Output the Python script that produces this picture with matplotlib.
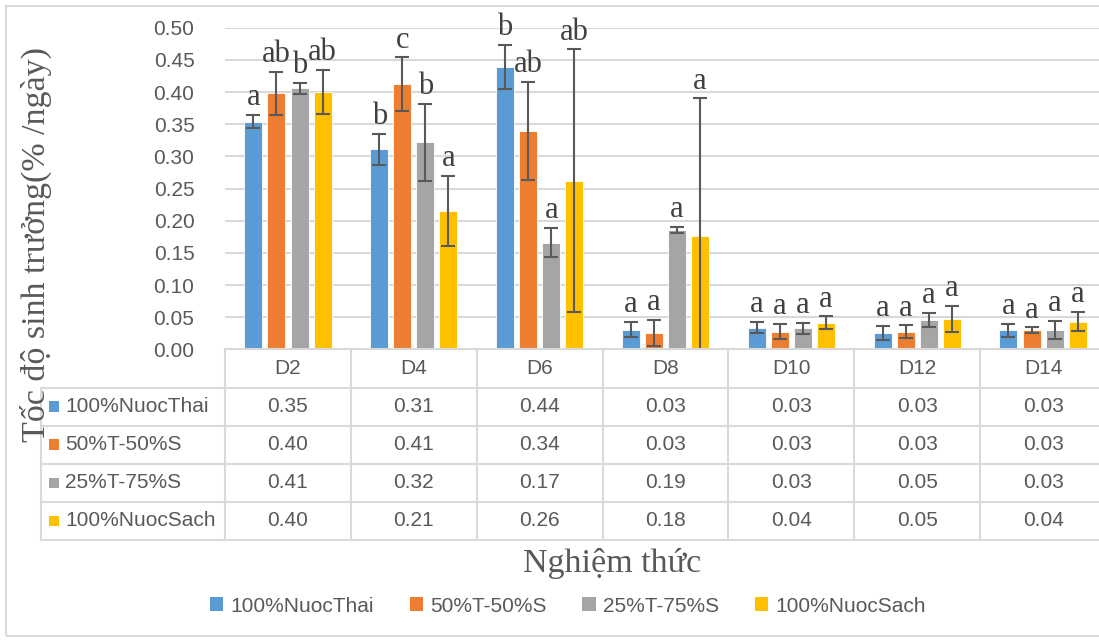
import matplotlib
matplotlib.use("Agg")
import matplotlib.pyplot as plt
from matplotlib.patches import Patch, Rectangle
import numpy as np

# ---------------- data ----------------
categories = ["D2", "D4", "D6", "D8", "D10", "D12", "D14"]
series_names = ["100%NuocThai", "50%T-50%S", "25%T-75%S", "100%NuocSach"]

nuoc_thai = [0.354, 0.311, 0.4395, 0.031, 0.034, 0.0257, 0.0298]
t50_s50 = [0.398, 0.412, 0.340, 0.026, 0.0277, 0.0277, 0.0298]
t25_s75 = [0.406, 0.322, 0.166, 0.186, 0.033, 0.0459, 0.031]
nuoc_sach = [0.4005, 0.215, 0.262, 0.176, 0.0417, 0.0474, 0.043]

err_nuoc_thai = [0.0104, 0.0244, 0.034, 0.012, 0.0085, 0.0105, 0.0105]
err_t50_s50 = [0.0335, 0.042, 0.076, 0.020, 0.012, 0.010, 0.0045]
err_t25_s75 = [0.0083, 0.060, 0.023, 0.0045, 0.0085, 0.0105, 0.014]
err_nuoc_sach = [0.0345, 0.0545, 0.2045, 0.214, 0.010, 0.020, 0.015]

letters_nuoc_thai = ["a", "b", "b", "a", "a", "a", "a"]
letters_t50_s50 = ["ab", "c", "ab", "a", "a", "a", "a"]
letters_t25_s75 = ["b", "b", "a", "a", "a", "a", "a"]
letters_nuoc_sach = ["ab", "a", "ab", "a", "a", "a", "a"]

y_ticks = [0.00, 0.05, 0.10, 0.15, 0.20, 0.25, 0.30, 0.35, 0.40, 0.45, 0.50]
y_label = "Tốc độ sinh trưởng(% /ngày)"
x_label = "Nghiệm thức"

values = [nuoc_thai, t50_s50, t25_s75, nuoc_sach]
errors = [err_nuoc_thai, err_t50_s50, err_t25_s75, err_nuoc_sach]
letters = [letters_nuoc_thai, letters_t50_s50, letters_t25_s75, letters_nuoc_sach]

# ---------------- style ----------------
colors = ["#5B9BD5", "#ED7D31", "#A5A5A5", "#FFC000"]
text_gray = "#595959"
grid_gray = "#D9D9D9"
err_gray = "#595959"

plt.rcParams['font.family'] = ['Liberation Sans', 'DejaVu Sans']
serif = ['Liberation Serif', 'DejaVu Serif']

W, H = 1099, 641
fig = plt.figure(figsize=(W / 100, H / 100), dpi=100)

col_w = 125.86  # px per category
ax_left, ax_right = 225, 225 + 7 * col_w
y0_px, y50_px = 349.5, 27.7

ax = fig.add_axes([ax_left / W, 1 - y0_px / H, (ax_right - ax_left) / W, (y0_px - y50_px) / H])
ax.set_xlim(-0.5, 6.5)
ax.set_ylim(0, 0.5)

x = np.arange(len(categories))
offsets = [-0.275, -0.092, 0.092, 0.275]
bar_w = 0.143

for i in range(4):
    ax.bar(x + offsets[i], values[i], width=bar_w, color=colors[i],
           edgecolor="white", linewidth=0.6, zorder=2)
    ax.errorbar(x + offsets[i], values[i], yerr=errors[i], fmt='none',
                ecolor=err_gray, elinewidth=1.5, capsize=4.7, capthick=1.5, zorder=3)
    for j in range(len(categories)):
        top = values[i][j] + errors[i][j]
        ax.annotate(letters[i][j], xy=(x[j] + offsets[i], top), xytext=(0, 7),
                    textcoords="offset points", ha="center", va="baseline",
                    fontsize=22, family=serif, color="#404040", zorder=4)

ax.set_yticks(y_ticks)
ax.set_yticklabels([f"{v:.2f}" for v in y_ticks], fontsize=15, color=text_gray)
ax.tick_params(axis='y', length=0, pad=22)
ax.set_xticks([])
for s in ax.spines.values():
    s.set_visible(False)
ax.yaxis.grid(True, color=grid_gray, linewidth=1.5, zorder=0)
ax.set_axisbelow(True)

# ---------------- data table ----------------
tab_left = 41
tab = fig.add_axes([tab_left / W, 1 - 540 / H, (ax_right - tab_left) / W, 190.5 / H])
xl = -0.5 - (ax_left - tab_left) / col_w
tab.set_xlim(xl, 6.5)
tab.set_ylim(0, 5)
tab.axis('off')

lw = 1.5
tab.plot([-0.5, 6.5], [5, 5], color=grid_gray, lw=lw, clip_on=False)
for r in range(5):
    tab.plot([xl, 6.5], [r, r], color=grid_gray, lw=lw, clip_on=False)
for k in range(8):
    tab.plot([-0.5 + k, -0.5 + k], [0, 5], color=grid_gray, lw=lw, clip_on=False)
tab.plot([xl, xl], [0, 4], color=grid_gray, lw=lw, clip_on=False)

for j, c in enumerate(categories):
    tab.text(j, 4.5, c, ha="center", va="center", fontsize=15, color=text_gray)
mk_w = 10 / col_w
for i, name in enumerate(series_names):
    yc = 3.5 - i
    tab.add_patch(Rectangle((xl + 8 / col_w, yc - 0.13), mk_w, 0.27,
                            facecolor=colors[i], edgecolor="none", clip_on=False))
    tab.text(xl + 24 / col_w, yc, name, ha="left", va="center", fontsize=15, color=text_gray)
    for j in range(len(categories)):
        tab.text(j, yc, f"{values[i][j]:.2f}", ha="center", va="center",
                 fontsize=15, color=text_gray)

# ---------------- titles ----------------
fig.text(36 / W, 1 - 245 / H, y_label, rotation=90, ha="center", va="center",
         fontsize=24.5, family=serif, color=text_gray)
fig.text(612 / W, 1 - 572 / H, x_label, ha="center", va="baseline",
         fontsize=24.5, family=serif, color=text_gray)

handles = [Patch(facecolor=colors[i], edgecolor="none", label=series_names[i]) for i in range(4)]
fig.legend(handles=handles, loc="center", bbox_to_anchor=(568 / W, 1 - 606 / H), ncol=4,
           frameon=False, fontsize=15, handlelength=0.65, handleheight=0.65,
           handletextpad=0.35, columnspacing=1.7, labelcolor=text_gray)

# outer border
fig.add_artist(Rectangle((6 / W, 1 - 636 / H), 1.2, (636 - 6) / H, transform=fig.transFigure,
                         facecolor="none", edgecolor=grid_gray, linewidth=1.5))

fig.savefig("out.png", dpi=100)
